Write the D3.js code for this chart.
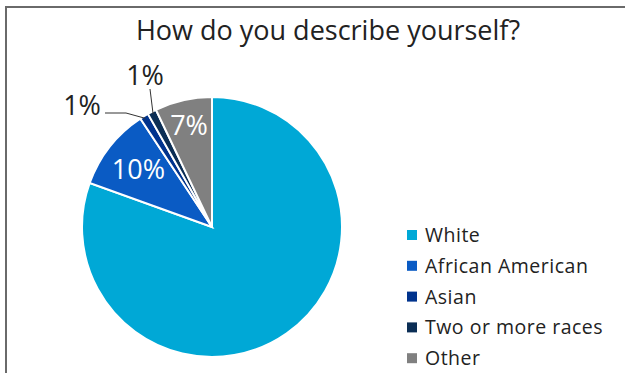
<!DOCTYPE html>
<html><head><meta charset="utf-8">
<script src="https://cdn.jsdelivr.net/npm/d3@7"></script>
<style>
body{margin:0;background:#fff;}
svg{display:block;font-family:"Open Sans",sans-serif;}
</style></head>
<body><svg id="c" width="625" height="373"></svg>
<script>
const categories = ["White","African American","Asian","Two or more races","Other"];
const values = [80.5, 10.2, 1.1, 1.1, 7.1];
const labels = ["", "10%", "1%", "1%", "7%"];
const colors = ["#00A8D6","#0A5BC4","#00338D","#0B2E55","#808080"];

const svg = d3.select("#c");
svg.append("path").attr("d","M6,380 V7 H640").attr("fill","none").attr("stroke","#6a6a6a").attr("stroke-width",2);

const title = svg.append("text").attr("x",328).attr("y",40).attr("text-anchor","middle")
  .attr("font-size",25).attr("fill","#222")
  .text("How do you describe yourself?");
const w = title.node().getComputedTextLength();
title.attr("font-size", Math.min(27, 25*392/w));

const cx=212, cy=227, R=130;
const g = svg.append("g").attr("transform",`translate(${cx},${cy})`);
const pie = d3.pie().sort(null).value(d=>d)(values);
const arc = d3.arc().innerRadius(0).outerRadius(R);
g.selectAll("path.s").data(pie).join("path").attr("class","s")
  .attr("d",arc).attr("fill",(d,i)=>colors[i]).attr("stroke","#fff").attr("stroke-width",2);

const outerA = d3.arc().innerRadius(R*0.98).outerRadius(R*0.98);
[1,4].forEach(i=>{
  const rr = i===1 ? 0.72 : 0.8;
  const c = d3.arc().innerRadius(R*rr).outerRadius(R*rr).centroid(pie[i]);
  g.append("text").attr("x",c[0]).attr("y",c[1]).attr("dy","0.36em").attr("text-anchor","middle")
   .attr("font-size",27).attr("fill","#fff").text(labels[i]);
});
const p2 = outerA.centroid(pie[2]);
g.append("polyline").attr("points",`${105-cx},${113-cy} ${126-cx},${113-cy} ${p2[0]},${p2[1]}`)
  .attr("fill","none").attr("stroke","#333").attr("stroke-width",1);
g.append("text").attr("x",82-cx).attr("y",105-cy).attr("dy","0.36em").attr("text-anchor","middle")
  .attr("font-size",27).attr("fill","#222").text(labels[2]);
const p3 = outerA.centroid(pie[3]);
g.append("polyline").attr("points",`${150-cx},${89-cy} ${p3[0]},${p3[1]}`)
  .attr("fill","none").attr("stroke","#333").attr("stroke-width",1);
g.append("text").attr("x",145-cx).attr("y",75-cy).attr("dy","0.36em").attr("text-anchor","middle")
  .attr("font-size",27).attr("fill","#222").text(labels[3]);

const lg = svg.append("g").attr("transform","translate(407,235)");
const row = lg.selectAll("g").data(categories).join("g").attr("transform",(d,i)=>`translate(0,${i*30.8})`);
row.append("rect").attr("x",0).attr("y",-5).attr("width",10).attr("height",10).attr("fill",(d,i)=>colors[i]);
row.append("text").attr("x",18).attr("y",0).attr("dy","0.36em").attr("font-size",19.5)
  .attr("fill","#222").attr("letter-spacing",0.5).text(d=>d);
</script></body></html>
